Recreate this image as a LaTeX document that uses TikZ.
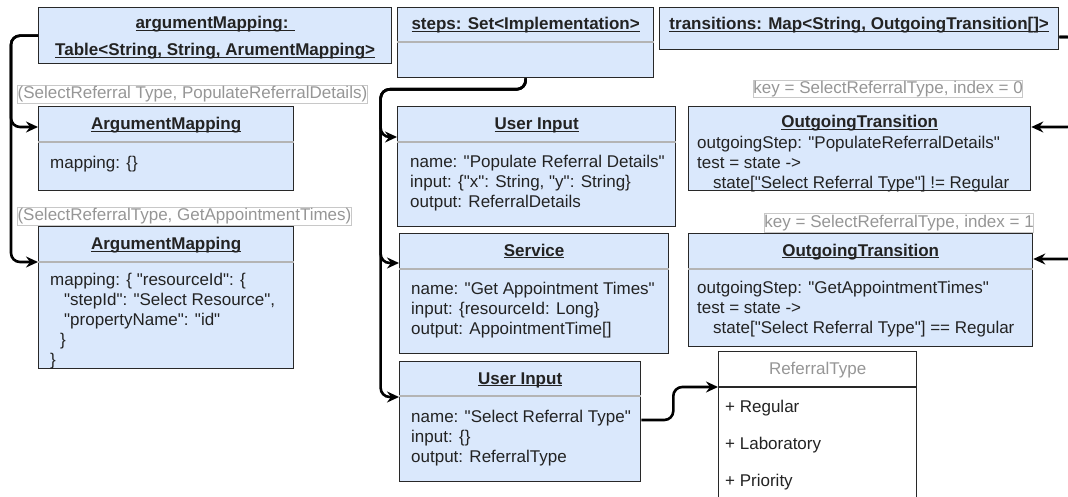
\documentclass[tikz,border=0pt]{standalone}
\usepackage{fontspec}
\setmainfont{Liberation Sans}[Ligatures=TeXOff]
\usetikzlibrary{arrows.meta}
\definecolor{boxfill}{RGB}{218,232,252}
\definecolor{boxline}{RGB}{40,40,40}
\definecolor{sepline}{RGB}{180,180,180}
\definecolor{labtext}{RGB}{150,150,150}
\definecolor{labline}{RGB}{200,200,200}
\definecolor{txt}{RGB}{35,35,35}
\newcommand\ulin[1]{\underline{\smash{#1}}}
\begin{document}
\begin{tikzpicture}[x=1pt,y=-1pt,
  every node/.style={font=\fontsize{17}{20}\selectfont, text=txt},
  clsbox/.style={draw=boxline, fill=boxfill, line width=1.3pt, anchor=north west, inner sep=0},
  plainbox/.style={draw=boxline, fill=white, line width=1.3pt, anchor=north west, inner sep=0},
  sepl/.style={draw=sepline, line width=1.3pt},
  ttl/.style={font=\fontsize{17}{20}\selectfont\bfseries, inner sep=0, anchor=base},
  bodytxt/.style={align=left, anchor=west, inner sep=0},
  lbl/.style={draw=labline, line width=0.9pt, text=labtext, inner sep=0, anchor=north west},
  conn/.style={draw=black, line width=2.6pt, rounded corners=9pt, -{Stealth[length=12pt,width=11pt,inset=4pt]}},
]
\useasboundingbox (0,0) rectangle (1068,497);

% top boxes
\node[clsbox, minimum width=353, minimum height=56] (argTable) at (38,7) {};
\node[ttl] (argTableT1) at ([yshift=-22]argTable.north) {\ulin{argumentMapping: }};
\node[ttl] (argTableT2) at ([yshift=-49]argTable.north) {\ulin{Table<String, String, ArumentMapping>}};

\node[clsbox, minimum width=256, minimum height=70] (steps) at (397,7) {};
\draw[sepl] ([yshift=-35]steps.north west) -- ([yshift=-35]steps.north east);
\node[ttl] (stepsT) at ([yshift=-23]steps.north) {\ulin{steps: Set<Implementation>}};

\node[clsbox, minimum width=399, minimum height=42] (trans) at (659,7) {};
\node[ttl] (transT) at ([yshift=-23]trans.north) {\ulin{transitions: Map<String, OutgoingTransition[]>}};

% left column
\node[lbl, minimum width=350, minimum height=18] (lab1) at (17,85) {(SelectReferral Type, PopulateReferralDetails)};
\node[clsbox, minimum width=255, minimum height=84] (am1) at (38,106) {};
\draw[sepl] ([yshift=-36]am1.north west) -- ([yshift=-36]am1.north east);
\node[ttl] (am1T) at ([yshift=-24]am1.north) {\ulin{ArgumentMapping}};
\node[bodytxt] (am1B) at ([xshift=12,yshift=-58]am1.north west) {mapping: \{\}};

\node[lbl, minimum width=334, minimum height=18] (lab2) at (17,207) {(SelectReferralType, GetAppointmentTimes)};
\node[clsbox, minimum width=255, minimum height=142] (am2) at (38,226) {};
\draw[sepl] ([yshift=-36]am2.north west) -- ([yshift=-36]am2.north east);
\node[ttl] (am2T) at ([yshift=-24]am2.north) {\ulin{ArgumentMapping}};
\node[bodytxt] (am2B) at ([xshift=12,yshift=-95]am2.north west) {mapping: \{ "resourceId": \{\\\hspace*{14pt}"stepId": "Select Resource",\\\hspace*{14pt}"propertyName": "id"\\\hspace*{10pt}\}\\\}};

% middle column
\node[clsbox, minimum width=278, minimum height=120] (ui1) at (397,106) {};
\draw[sepl] ([yshift=-36]ui1.north west) -- ([yshift=-36]ui1.north east);
\node[ttl] (ui1T) at ([yshift=-24]ui1.north) {\ulin{User Input}};
\node[bodytxt] (ui1B) at ([xshift=13,yshift=-77]ui1.north west) {name: "Populate Referral Details"\\input: \{"x": String, "y": String\}\\output: ReferralDetails};

\node[clsbox, minimum width=269, minimum height=120] (svc) at (399,233) {};
\draw[sepl] ([yshift=-36]svc.north west) -- ([yshift=-36]svc.north east);
\node[ttl] (svcT) at ([yshift=-23]svc.north) {\ulin{Service}};
\node[bodytxt] (svcB) at ([xshift=12,yshift=-77]svc.north west) {name: "Get Appointment Times"\\input: \{resourceId: Long\}\\output: AppointmentTime[]};

\node[clsbox, minimum width=241, minimum height=120] (ui3) at (399,361) {};
\draw[sepl] ([yshift=-35]ui3.north west) -- ([yshift=-35]ui3.north east);
\node[ttl] (ui3T) at ([yshift=-23]ui3.north) {\ulin{User Input}};
\node[bodytxt] (ui3B) at ([xshift=12,yshift=-77.5]ui3.north west) {name: "Select Referral Type"\\input: \{\}\\output: ReferralType};

% right column
\node[lbl, minimum width=269, minimum height=17] (lab3) at (753,80) {key = SelectReferralType, index = 0};
\node[clsbox, minimum width=342, minimum height=84] (ot1) at (688,106) {};
\node[ttl] (ot1T) at ([yshift=-22]ot1.north) {\ulin{OutgoingTransition}};
\node[bodytxt] (ot1B) at ([xshift=9,yshift=-58]ot1.north west) {outgoingStep: "PopulateReferralDetails"\\test = state ->\\\hspace*{16pt}state["Select Referral Type"] != Regular};

\node[lbl, minimum width=269, minimum height=19] (lab4) at (764,213) {key = SelectReferralType, index = 1};
\node[clsbox, minimum width=344, minimum height=113] (ot2) at (688,233) {};
\draw[sepl] ([yshift=-36]ot2.north west) -- ([yshift=-36]ot2.north east);
\node[ttl] (ot2T) at ([yshift=-23]ot2.north) {\ulin{OutgoingTransition}};
\node[bodytxt] (ot2B) at ([xshift=9,yshift=-76.5]ot2.north west) {outgoingStep: "GetAppointmentTimes"\\test = state ->\\\hspace*{16pt}state["Select Referral Type"] == Regular};

\node[plainbox, minimum width=198, minimum height=170] (rtype) at (718,351) {};
\draw[draw=boxline, line width=1.3pt] ([yshift=-36]rtype.north west) -- ([yshift=-36]rtype.north east);
\node[inner sep=0, text=labtext] (rtypeT) at ([yshift=-19]rtype.north) {ReferralType};
\node[bodytxt] (rt1) at ([xshift=7,yshift=-57]rtype.north west) {+ Regular};
\node[bodytxt] (rt2) at ([xshift=7,yshift=-94]rtype.north west) {+ Laboratory};
\node[bodytxt] (rt3) at ([xshift=7,yshift=-131]rtype.north west) {+ Priority};

% connectors
\draw[conn] (argTable.west) -- ++(-27,0) |- ([yshift=-21]am1.north west);
\draw[conn] (argTable.west) -- ++(-27,0) |- ([yshift=-36]am2.north west);
\draw[conn] (steps.south) -- ++(0,11) -- ++(-145,0) |- ([yshift=-31]ui1.north west);
\draw[conn] (steps.south) -- ++(0,11) -- ++(-145,0) |- ([yshift=-30]svc.north west);
\draw[conn] (steps.south) -- ++(0,11) -- ++(-145,0) |- ([yshift=-36]ui3.north west);
\draw[conn] ([yshift=-30]trans.north east) -- ++(17,0) |- ([yshift=-21]ot1.north east);
\draw[conn] ([yshift=-30]trans.north east) -- ++(17,0) |- ([yshift=-26]ot2.north east);
\draw[conn] ([yshift=-59]ui3.north east) -- ++(32,0) |- ([yshift=-36]rtype.north west);
\end{tikzpicture}
\end{document}
